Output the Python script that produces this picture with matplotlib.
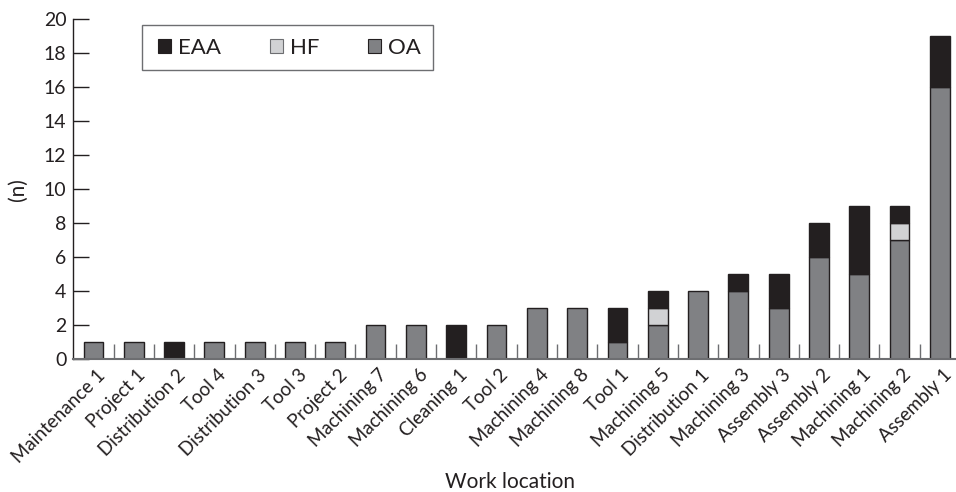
import matplotlib
matplotlib.use("Agg")
import matplotlib.pyplot as plt
from matplotlib.patches import Patch, Rectangle
from matplotlib.ticker import FixedLocator
import matplotlib.transforms as mtransforms
import numpy as np

plt.rcParams['font.family'] = ['Lato', 'DejaVu Sans']

categories = ["Maintenance 1", "Project 1", "Distribution 2", "Tool 4", "Distribution 3",
              "Tool 3", "Project 2", "Machining 7", "Machining 6", "Cleaning 1", "Tool 2",
              "Machining 4", "Machining 8", "Tool 1", "Machining 5", "Distribution 1",
              "Machining 3", "Assembly 3", "Assembly 2", "Machining 1", "Machining 2",
              "Assembly 1"]
oa  = [1, 1, 0, 1, 1, 1, 1, 2, 2, 0, 2, 3, 3, 1, 2, 4, 4, 3, 6, 5, 7, 16]
hf  = [0, 0, 0, 0, 0, 0, 0, 0, 0, 0, 0, 0, 0, 0, 1, 0, 0, 0, 0, 0, 1, 0]
eaa = [0, 0, 1, 0, 0, 0, 0, 0, 0, 2, 0, 0, 0, 2, 1, 0, 1, 2, 2, 4, 1, 3]
yticks = list(range(0, 21, 2))

c_eaa = '#231f20'
c_hf = '#d1d2d4'
c_oa = '#808184'
edge = '#231f20'

W, H = 956, 492
fig = plt.figure(figsize=(W / 100, H / 100), dpi=100)
ax = fig.add_axes([73.3 / W, 1 - 359.3 / H, 882.7 / W, 340.3 / H])

x = np.arange(len(categories))
oa_a = np.array(oa)
hf_a = np.array(hf)
eaa_a = np.array(eaa)
bw = 0.49


def draw(vals, bottom, color):
    m = vals > 0
    ax.bar(x[m], vals[m], bw, bottom=bottom[m], color=color, edgecolor=edge,
           linewidth=1.0, zorder=2)


draw(oa_a, np.zeros_like(oa_a), c_oa)
draw(hf_a, oa_a, c_hf)
draw(eaa_a, oa_a + hf_a, c_eaa)

ax.set_xlim(-0.5, len(categories) - 0.6)
ax.set_ylim(0, 20)
ax.set_yticks(yticks)
ax.set_yticklabels([str(v) for v in yticks], fontsize=14, color='#231f20')
ax.tick_params(axis='y', direction='in', length=11.5, width=1.0, color='#231f20', pad=5)

ax.set_xticks(x)
ax.set_xticklabels(categories, rotation=45, ha='right', va='top',
                   rotation_mode='anchor', fontsize=13.5, color='#231f20')
ax.tick_params(axis='x', which='major', length=0, pad=5)
ax.xaxis.set_minor_locator(FixedLocator(x[:-1] + 0.5))
ax.tick_params(axis='x', which='minor', direction='in', length=10.8, width=1.0, color='#6d6e71')
offset = mtransforms.ScaledTranslation(3 / 100, 0, fig.dpi_scale_trans)
for lab in ax.get_xticklabels():
    lab.set_transform(lab.get_transform() + offset)

for s in ['top', 'right']:
    ax.spines[s].set_visible(False)
ax.spines['left'].set_color('#231f20')
ax.spines['left'].set_linewidth(1.0)
ax.spines['bottom'].set_color('#6d6e71')
ax.spines['bottom'].set_linewidth(1.5)

ax.set_xlabel('Work location', fontsize=15, color='#231f20', va='center')
ax.xaxis.set_label_coords((510 - 73.3) / 882.7, (359.3 - 482) / 340.3)
ax.set_ylabel('(n)', fontsize=15, color='#231f20', va='center')
ax.yaxis.set_label_coords((18 - 73.3) / 882.7, 0.5)

handles = [Patch(facecolor=c_eaa, edgecolor=edge, linewidth=0.8, label='EAA'),
           Patch(facecolor=c_hf, edgecolor='#6d6e71', linewidth=0.8, label='HF'),
           Patch(facecolor=c_oa, edgecolor=edge, linewidth=0.8, label='OA')]
leg = ax.legend(handles=handles, ncol=3, frameon=False, fontsize=16,
                loc='center left',
                bbox_to_anchor=((158 - 73.3) / 882.7, (359.3 - 47.5) / 340.3),
                borderaxespad=0, borderpad=0, handlelength=0.6, handleheight=0.6,
                handletextpad=0.3, columnspacing=2.2)
for t in leg.get_texts():
    t.set_color('#231f20')
frame = Rectangle(((141.7 - 73.3) / 882.7, (359.3 - 70) / 340.3),
                  (433.3 - 141.7) / 882.7, 45 / 340.3, transform=ax.transAxes,
                  fill=False, edgecolor='#6d6e71', linewidth=1.0, zorder=5)
ax.add_patch(frame)

fig.savefig('out.png', dpi=100)
